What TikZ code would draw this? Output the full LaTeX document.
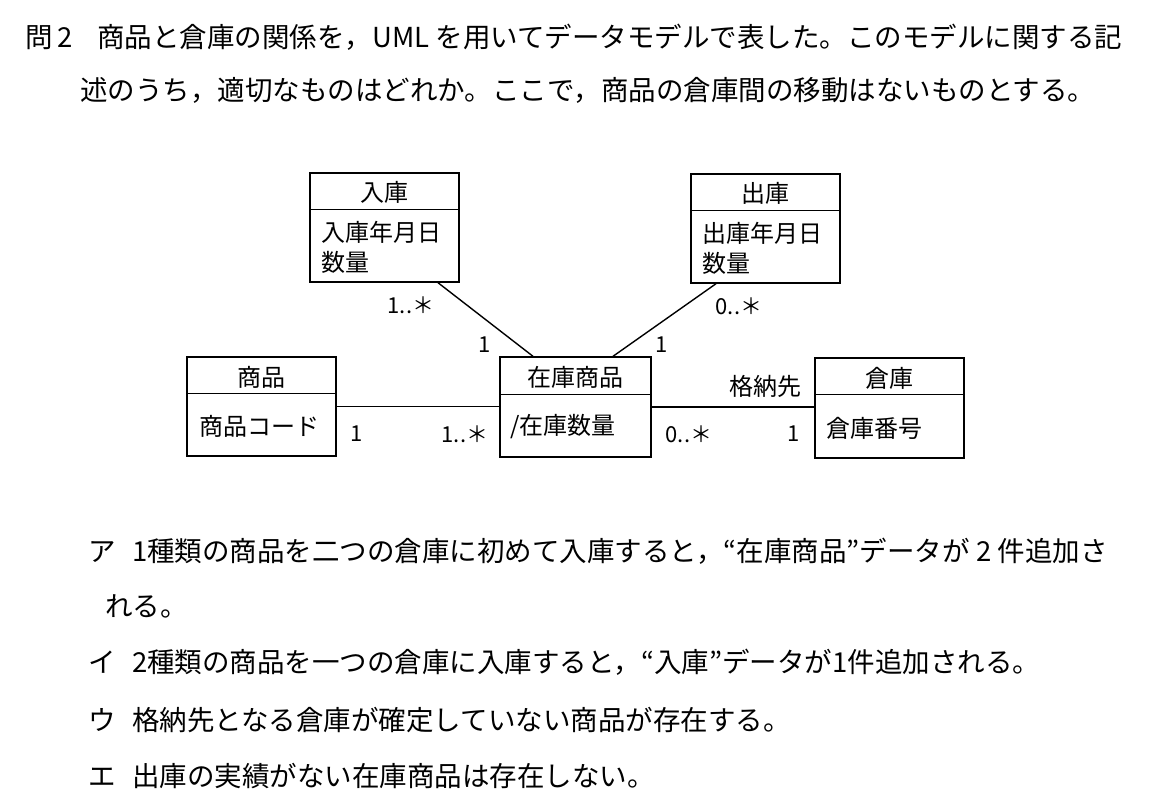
\documentclass[tikz,border=0pt]{standalone}
\usepackage{fontspec}
\setmainfont{Noto Sans CJK JP}
\begin{document}
\begin{tikzpicture}[x=1pt,y=-1pt,
  box/.style={draw,line width=1.4pt,inner sep=0pt},
  conn/.style={line width=1.4pt},
  body/.style={anchor=west,inner sep=0pt,font=\fontsize{27.5}{31}\selectfont},
  dtext/.style={inner sep=0pt,font=\fontsize{24}{28}\selectfont},
  mult/.style={inner sep=0pt,font=\fontsize{22}{26}\selectfont}]
\useasboundingbox[fill=white] (0,0) rectangle (1167,803);
% question text
\node[body] (q1) at (25,37) {問\,2\hspace{0.9em}商品と倉庫の関係を，UML を用いてデータモデルで表した。このモデルに関する記};
\node[body] (q2) at (80,90) {述のうち，適切なものはどれか。ここで，商品の倉庫間の移動はないものとする。};
% boxes
\node[box,minimum width=149pt,minimum height=109pt] (nyuko) at (384.5,227.5) {};
\draw[conn] ([yshift=-37pt]nyuko.north west) -- ([yshift=-37pt]nyuko.north east);
\node[dtext] (nyukoT) at (384.5,192) {入庫};
\node[dtext,anchor=west,align=left] (nyukoA) at (321,247) {入庫年月日\\[2pt]数量};

\node[box,minimum width=149pt,minimum height=109pt] (shukko) at (765.5,228.5) {};
\draw[conn] ([yshift=-37pt]shukko.north west) -- ([yshift=-37pt]shukko.north east);
\node[dtext] (shukkoT) at (765.5,193) {出庫};
\node[dtext,anchor=west,align=left] (shukkoA) at (702,248) {出庫年月日\\[2pt]数量};

\node[box,minimum width=149pt,minimum height=99pt] (shohin) at (261.5,406.5) {};
\draw[conn] ([yshift=-37pt]shohin.north west) -- ([yshift=-37pt]shohin.north east);
\node[dtext] (shohinT) at (261.5,377) {商品};
\node[dtext,anchor=west] (shohinA) at (199,426) {商品コード};

\node[box,minimum width=151pt,minimum height=100pt] (zaiko) at (575.5,407) {};
\draw[conn] ([yshift=-38pt]zaiko.north west) -- ([yshift=-38pt]zaiko.north east);
\node[dtext] (zaikoT) at (575.5,377) {在庫商品};
\node[dtext,anchor=west] (zaikoA) at (510,427) {/在庫数量};

\node[box,minimum width=149pt,minimum height=100pt] (soko) at (889.5,408) {};
\draw[conn] ([yshift=-37pt]soko.north west) -- ([yshift=-37pt]soko.north east);
\node[dtext] (sokoT) at (889.5,378) {倉庫};
\node[dtext,anchor=west] (sokoA) at (826,428) {倉庫番号};

% connectors
\draw[conn] ([xshift=53.5pt]nyuko.south) -- ([xshift=-42.5pt]zaiko.north);
\draw[conn] ([xshift=-49.5pt]shukko.south) -- ([xshift=37.5pt]zaiko.north);
\draw[conn] (shohin.east) -- (shohin.east -| zaiko.west);
\draw[conn] (zaiko.east) -- (zaiko.east -| soko.west);

% multiplicities
\node[mult] (m1) at (411,305) {1..＊};
\node[mult] (m2) at (485,345) {1};
\node[mult] (m3) at (739,306) {0..＊};
\node[mult] (m4) at (662,345) {1};
\node[mult] (m5) at (357,434) {1};
\node[mult] (m6) at (465,434) {1..＊};
\node[mult] (m7) at (689,434) {0..＊};
\node[mult] (m8) at (794,434) {1};
\node[dtext] (role) at (765,386) {格納先};

% options
\node[body] (a) at (88,551) {ア\hspace{0.6em}1種類の商品を二つの倉庫に初めて入庫すると，“在庫商品”データが 2 件追加さ};
\node[body] (a2) at (105,606) {れる。};
\node[body] (i) at (88,662) {イ\hspace{0.6em}2種類の商品を一つの倉庫に入庫すると，“入庫”データが1件追加される。};
\node[body] (u) at (88,720) {ウ\hspace{0.6em}格納先となる倉庫が確定していない商品が存在する。};
\node[body] (e) at (88,776) {エ\hspace{0.6em}出庫の実績がない在庫商品は存在しない。};
\end{tikzpicture}
\end{document}
